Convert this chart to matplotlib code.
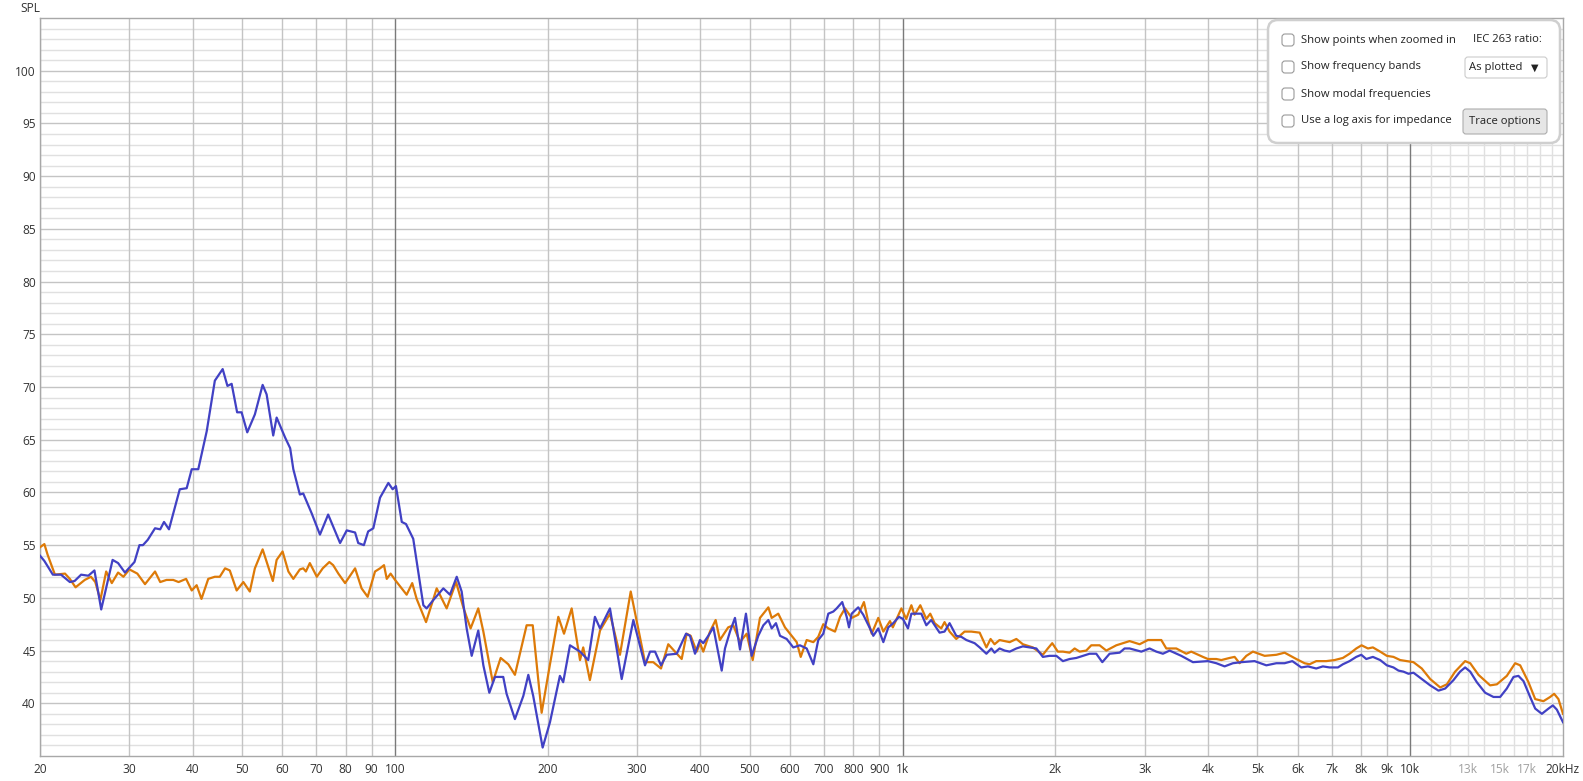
import numpy as np
import matplotlib
matplotlib.use("Agg")
import matplotlib.pyplot as plt
from matplotlib.patches import FancyBboxPatch

plt.rcParams['font.family'] = ['Open Sans', 'DejaVu Sans']

# ---- measured traces (Hz, dB SPL) ----
blue_freq = [
    20, 20.4, 21.2, 22.0, 22.9, 23.4, 24.1, 24.9, 25.6, 26.4,
    27.8, 28.5, 29.4, 30.7, 31.4, 31.9, 32.6, 33.7, 34.5, 35.1,
    35.9, 37.7, 38.9, 39.8, 41.0, 42.6, 44.2, 45.8, 46.8, 47.7,
    48.9, 49.9, 51.2, 53.0, 54.9, 55.9, 57.6, 58.5, 60.8, 62.2,
    63.1, 65.0, 66.0, 68.6, 71.2, 73.9, 78.0, 80.4, 83.5, 84.7,
    86.9, 88.6, 90.7, 93.5, 97.1, 99.0, 100.5, 103.2, 105.2, 108.7,
    113.8, 115.5, 119.1, 124.6, 128.4, 132.4, 135.4, 138.5, 141.7, 146.0,
    149.4, 153.5, 157.5, 163.5, 166.0, 172.4, 179.1, 183.2, 187.3, 195.5,
    202.1, 211.4, 214.6, 221.3, 231.6, 240.4, 247.8, 253.6, 265.3, 279.8,
    295.0, 311.0, 318.2, 325.5, 334.4, 343.2, 359.2, 374.6, 381.4, 390.2,
    399.1, 405.1, 414.4, 424.0, 440.4, 447.0, 457.3, 467.7, 478.5, 491.6,
    504.4, 519.9, 532.0, 544.2, 552.5, 563.3, 573.7, 591.3, 609.3, 628.0,
    647.5, 667.3, 682.4, 698.1, 714.2, 730.6, 741.8, 760.8, 776.3, 784.5,
    794.1, 818.0, 836.9, 862.8, 875.9, 895.9, 916.7, 937.6, 958.8, 984,
    1002, 1025, 1041, 1065, 1089, 1114, 1139, 1183, 1210, 1238,
    1276, 1306, 1336, 1387, 1419, 1463, 1496, 1518, 1553, 1589,
    1626, 1676, 1726, 1780, 1835, 1890, 1948, 2009, 2070, 2134,
    2200, 2267, 2336, 2408, 2475, 2558, 2677, 2738, 2801, 2954,
    3067, 3162, 3258, 3358, 3541, 3733, 3996, 4151, 4310, 4475,
    4649, 4937, 5208, 5450, 5658, 5859, 6103, 6288, 6531, 6730,
    6938, 7204, 7369, 7596, 7831, 8011, 8195, 8444, 8727, 8997,
    9270, 9484, 9701, 9923, 10150, 10540, 10950, 11370, 11720, 12170,
    12540, 12830, 13130, 13530, 14050, 14590, 15040, 15500, 15980, 16340,
    16720, 17230, 17630, 18170, 18730, 19100, 19450, 20000,
]
blue_spl = [
    54.0, 53.5, 52.2, 52.2, 51.5, 51.6, 52.2, 52.1, 52.6, 48.9,
    53.6, 53.3, 52.4, 53.4, 55.0, 55.0, 55.5, 56.6, 56.5, 57.2,
    56.5, 60.3, 60.4, 62.2, 62.2, 65.8, 70.6, 71.7, 70.1, 70.3,
    67.6, 67.6, 65.7, 67.4, 70.2, 69.3, 65.4, 67.1, 65.2, 64.2,
    62.2, 59.8, 59.9, 58.0, 56.0, 57.9, 55.2, 56.4, 56.2, 55.2,
    55.0, 56.3, 56.6, 59.5, 60.9, 60.3, 60.6, 57.2, 57.0, 55.6,
    49.3, 49.0, 49.8, 50.9, 50.3, 52.0, 50.6, 47.1, 44.5, 46.9,
    43.6, 41.0, 42.5, 42.5, 40.9, 38.5, 40.7, 42.7, 40.7, 35.8,
    38.2, 42.6, 42.0, 45.5, 44.9, 44.1, 48.2, 47.1, 49.0, 42.3,
    47.9, 43.6, 44.9, 44.9, 43.6, 44.6, 44.7, 46.6, 46.4, 44.7,
    46.0, 45.7, 46.4, 47.2, 43.1, 45.2, 46.8, 48.1, 45.1, 48.5,
    44.5, 46.4, 47.4, 47.9, 47.1, 47.6, 46.4, 46.1, 45.3, 45.5,
    45.2, 43.7, 46.0, 46.6, 48.5, 48.7, 49.0, 49.6, 48.2, 47.2,
    48.5, 49.1, 48.4, 47.1, 46.4, 47.1, 45.8, 47.2, 47.6, 48.2,
    48.0, 47.1, 48.5, 48.5, 48.5, 47.4, 47.9, 46.7, 46.8, 47.6,
    46.4, 46.3, 46.0, 45.7, 45.3, 44.7, 45.2, 44.8, 45.2, 45.0,
    44.9, 45.2, 45.4, 45.3, 45.2, 44.4, 44.5, 44.5, 44.0, 44.2,
    44.3, 44.5, 44.7, 44.7, 43.9, 44.7, 44.8, 45.2, 45.2, 44.9,
    45.2, 44.9, 44.7, 45.0, 44.5, 43.9, 44.0, 43.8, 43.5, 43.8,
    43.9, 44.0, 43.6, 43.8, 43.8, 44.0, 43.4, 43.5, 43.3, 43.5,
    43.4, 43.4, 43.7, 44.0, 44.4, 44.6, 44.2, 44.4, 44.1, 43.6,
    43.4, 43.1, 43.0, 42.8, 42.9, 42.3, 41.7, 41.2, 41.4, 42.2,
    43.0, 43.4, 43.0, 42.0, 41.0, 40.6, 40.6, 41.4, 42.5, 42.6,
    42.1, 40.6, 39.5, 39.0, 39.5, 39.8, 39.4, 38.2,
]

orange_freq = [
    20, 20.4, 20.7, 21.4, 22.4, 22.9, 23.5, 24.5, 25.2, 25.7,
    26.3, 27.0, 27.7, 28.5, 29.2, 30.0, 31.1, 32.2, 33.7, 34.5,
    35.5, 36.6, 37.5, 38.8, 39.8, 40.7, 41.6, 42.9, 44.2, 45.2,
    46.3, 47.3, 48.8, 50.3, 51.8, 53.0, 54.9, 57.5, 58.5, 60.1,
    61.7, 63.1, 65.0, 66.0, 66.8, 68.0, 70.2, 72.1, 74.3, 75.6,
    77.4, 79.8, 83.5, 86.0, 88.4, 91.4, 93.5, 95.2, 96.4, 98.1,
    100.1, 105.5, 108.2, 110.4, 115.2, 120.9, 126.5, 132.0, 136.4, 141.0,
    146.0, 149.4, 155.9, 161.6, 167.3, 172.4, 181.8, 186.9, 194.6, 202.1,
    209.9, 215.4, 223.0, 231.6, 235.0, 242.2, 253.6, 265.3, 277.6, 291.5,
    311.0, 322.9, 334.4, 345.6, 356.4, 367.3, 375.7, 382.6, 393.2, 399.1,
    405.1, 417.6, 428.5, 436.8, 453.5, 464.1, 478.5, 493.2, 506.9, 523.9,
    544.2, 552.5, 569.2, 586.8, 604.9, 618.8, 630.2, 647.5, 667.3, 682.4,
    698.1, 714.2, 736.3, 753.3, 770.6, 794.1, 818.0, 839.5, 856.4, 869.6,
    895.9, 916.7, 944.8, 957, 995, 1017, 1041, 1056, 1084, 1114,
    1134, 1157, 1192, 1210, 1238, 1276, 1325, 1366, 1419, 1463,
    1491, 1518, 1553, 1626, 1676, 1726, 1806, 1890, 1933, 1972,
    2023, 2070, 2134, 2183, 2233, 2301, 2354, 2445, 2520, 2637,
    2801, 2931, 3044, 3234, 3308, 3462, 3622, 3705, 3906, 3996,
    4151, 4246, 4409, 4510, 4613, 4756, 4900, 5168, 5450, 5658,
    5966, 6194, 6336, 6531, 6835, 7097, 7369, 7596, 7831, 8022,
    8256, 8444, 8727, 8997, 9270, 9557, 9851, 10150, 10540, 10950,
    11460, 11810, 12260, 12830, 13130, 13630, 14370, 14820, 15500, 16100,
    16470, 17100, 17630, 18300, 18870, 19210, 19590, 20000,
]
orange_spl = [
    54.8, 55.1, 54.1, 52.2, 52.3, 51.8, 51.0, 51.7, 52.0, 51.5,
    49.8, 52.5, 51.4, 52.4, 52.0, 52.7, 52.3, 51.3, 52.5, 51.5,
    51.7, 51.7, 51.5, 51.8, 50.7, 51.2, 49.9, 51.8, 52.0, 52.0,
    52.8, 52.6, 50.7, 51.5, 50.6, 52.8, 54.6, 51.6, 53.6, 54.4,
    52.5, 51.8, 52.7, 52.8, 52.5, 53.3, 52.0, 52.8, 53.4, 53.1,
    52.3, 51.4, 52.8, 50.9, 50.1, 52.5, 52.8, 53.1, 51.8, 52.3,
    51.7, 50.3, 51.4, 49.9, 47.7, 50.9, 49.0, 51.5, 49.1, 47.1,
    49.0, 46.8, 42.0, 44.3, 43.7, 42.7, 47.4, 47.4, 39.1, 43.7,
    48.2, 46.6, 49.0, 44.1, 45.3, 42.2, 46.9, 48.5, 44.6, 50.6,
    43.9, 43.9, 43.3, 45.6, 44.9, 44.2, 46.6, 46.4, 44.9, 45.7,
    44.9, 46.8, 47.9, 46.0, 47.2, 47.4, 45.8, 46.6, 44.1, 48.1,
    49.1, 48.1, 48.5, 47.2, 46.4, 45.8, 44.4, 46.0, 45.8, 46.3,
    47.5, 47.1, 46.8, 48.2, 49.0, 48.1, 48.4, 49.6, 47.7, 46.6,
    48.1, 46.8, 47.8, 47.2, 49.0, 48.0, 49.3, 48.4, 49.3, 48.0,
    48.5, 47.6, 47.1, 47.7, 46.8, 46.1, 46.8, 46.8, 46.7, 45.3,
    46.1, 45.6, 46.0, 45.8, 46.1, 45.6, 45.3, 44.6, 45.2, 45.7,
    44.9, 44.9, 44.8, 45.2, 44.9, 45.0, 45.5, 45.5, 45.0, 45.5,
    45.9, 45.6, 46.0, 46.0, 45.2, 45.2, 44.7, 44.9, 44.4, 44.2,
    44.2, 44.1, 44.3, 44.4, 43.8, 44.5, 44.9, 44.5, 44.6, 44.8,
    44.2, 43.8, 43.7, 44.0, 44.0, 44.1, 44.3, 44.7, 45.2, 45.5,
    45.2, 45.3, 44.9, 44.5, 44.4, 44.1, 44.0, 43.9, 43.3, 42.3,
    41.5, 41.8, 43.0, 44.0, 43.8, 42.7, 41.7, 41.8, 42.6, 43.8,
    43.6, 42.0, 40.4, 40.2, 40.6, 40.9, 40.4, 39.0,
]

x_ticks = [20, 30, 40, 50, 60, 70, 80, 90, 100, 200, 300, 400, 500, 600, 700,
           800, 900, 1000, 2000, 3000, 4000, 5000, 6000, 7000, 8000, 9000,
           10000, 13000, 15000, 17000, 20000]
x_labels = ['20', '30', '40', '50', '60', '70', '80', '90', '100', '200', '300',
            '400', '500', '600', '700', '800', '900', '1k', '2k', '3k', '4k',
            '5k', '6k', '7k', '8k', '9k', '10k', '13k', '15k', '17k', '20kHz']
y_ticks = [40, 45, 50, 55, 60, 65, 70, 75, 80, 85, 90, 95, 100]

options = ['Show points when zoomed in', 'Show frequency bands',
           'Show modal frequencies', 'Use a log axis for impedance']

assert len(blue_freq) == len(blue_spl)
assert len(orange_freq) == len(orange_spl)

W, H = 1583, 781
fig = plt.figure(figsize=(W / 100, H / 100), dpi=100)
fig.patch.set_facecolor('white')

# plot area in pixels: x 40..1563, y 18..756
ax = fig.add_axes([40 / W, 1 - 756 / H, 1523 / W, 738 / H])
ax.set_xscale('log')
ax.set_xlim(20, 20000)
ax.set_ylim(35, 105)

# grid, drawn by hand so every line gets its own shade
for db in range(36, 105):
    c = '#c4c4c4' if db % 5 == 0 else '#e0e0e0'
    ax.axhline(db, color=c, lw=1, zorder=1)
for dec in [10, 100, 1000]:
    for m in range(2, 10):
        f = dec * m
        if f < 20:
            continue
        ax.axvline(f, color='#c4c4c4', lw=1, zorder=1)
for f in [100, 1000, 10000]:
    ax.axvline(f, color='#7a7a7a', lw=1, zorder=1)
for k in range(11, 20):
    ax.axvline(k * 1000, color='#e0e0e0', lw=1, zorder=1)

ax.plot(orange_freq, orange_spl, color='#dd7a08', lw=1.6,
        solid_joinstyle='round', zorder=3)
ax.plot(blue_freq, blue_spl, color='#4141c4', lw=1.6,
        solid_joinstyle='round', zorder=4)

ax.set_xticks(x_ticks)
ax.set_xticklabels(x_labels)
ax.xaxis.set_minor_locator(matplotlib.ticker.NullLocator())
ax.set_yticks(y_ticks)
ax.tick_params(axis='both', length=0, labelsize=8.6, colors='#333333')
ax.tick_params(axis='x', pad=5)
ax.tick_params(axis='y', pad=3)
for lbl in ax.get_xticklabels():
    if lbl.get_text() in ('13k', '15k', '17k'):
        lbl.set_color('#a0a0a0')
for s in ax.spines.values():
    s.set_color('#a8a8a8')
    s.set_linewidth(1)

fig.text(20 / W, 1 - 9 / H, 'SPL', fontsize=8.6, color='#333333', va='center')


# ---- option panel (pixel coordinates from top-left) ----
def box(x0, y0, x1, y1, r, fc, ec, lw=1.0):
    p = FancyBboxPatch((x0 / 100, (H - y1) / 100), (x1 - x0) / 100, (y1 - y0) / 100,
                       boxstyle='round,pad=0,rounding_size=%f' % (r / 100),
                       transform=fig.dpi_scale_trans, fc=fc, ec=ec, lw=lw,
                       zorder=10)
    fig.patches.append(p)


def txt(x, y, s, size=8.1, **kw):
    fig.text(x / W, 1 - y / H, s, va='center', fontsize=size, color='#222222',
             zorder=11, **kw)


box(1268, 20, 1560, 143, 10, 'white', '#cfcfcf', lw=1.8)
rows = [40, 67, 94, 121]
for y, s in zip(rows, options):
    box(1282, y - 6, 1294, y + 6, 3, 'white', '#9a9a9a', lw=0.8)
    txt(1301, y, s)

txt(1473, rows[0], 'IEC 263 ratio:')
box(1465, 57, 1547, 78, 3, 'white', '#cccccc', lw=0.8)
txt(1469, 67.5, 'As plotted', fontweight='medium')
txt(1531, 67.5, '\u25bc', size=7, family='DejaVu Sans')
box(1463, 109, 1547, 134, 3, '#e6e6e6', '#adadad', lw=0.8)
txt(1505, 121.5, 'Trace options', ha='center')

fig.savefig('out.png', dpi=100)
